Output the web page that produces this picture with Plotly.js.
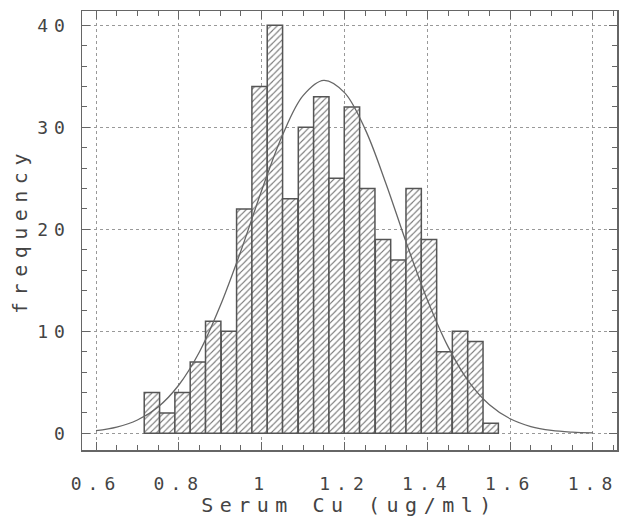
<!DOCTYPE html>
<html>
<head>
<meta charset="utf-8">
<script src="https://cdn.plot.ly/plotly-3.0.1.min.js"></script>
<style>
  html, body { margin: 0; padding: 0; background: #fff; }
  #chart { width: 621px; height: 517px; }
  .xtick text, .ytick text { letter-spacing: 6px; }
  .xtitle, .ytitle { letter-spacing: 6.5px; }
</style>
</head>
<body>
<div id="chart"></div>
<script>
// Histogram bins (centres, ug/ml) and counts
const binCenters = [0.735, 0.772, 0.809, 0.846, 0.883, 0.921, 0.958, 0.995, 1.032, 1.069, 1.107, 1.144,
                    1.181, 1.218, 1.255, 1.293, 1.330, 1.367, 1.404, 1.441, 1.479, 1.516, 1.553];
const counts = [4, 2, 4, 7, 11, 10, 22, 34, 40, 23, 30, 33, 25, 32, 24, 19, 17, 24, 19, 8, 10, 9, 1];
const binWidth = 0.0371;

// Fitted normal curve
const curveX = [0.60, 0.65, 0.70, 0.75, 0.80, 0.85, 0.90, 0.95, 1.00, 1.05, 1.10, 1.15, 1.20,
                1.25, 1.30, 1.35, 1.40, 1.45, 1.50, 1.55, 1.60, 1.65, 1.70, 1.75, 1.80];
const curveY = [0.26, 0.61, 1.31, 2.59, 4.74, 8.0, 12.5, 17.9, 23.8, 29.2, 33.1, 34.6, 33.4,
                29.8, 24.5, 18.6, 13.1, 8.5, 5.07, 2.80, 1.43, 0.67, 0.29, 0.12, 0.04];

const xTickVals = [0.6, 0.8, 1.0, 1.2, 1.4, 1.6, 1.8];
const yTickVals = [0, 10, 20, 30, 40];

const ink = '#444';
const font = 'DejaVu Sans Mono, Liberation Mono, monospace';

const traces = [
  {
    type: 'bar',
    x: binCenters,
    y: counts,
    width: binWidth,
    marker: {
      color: '#fff',
      line: { color: '#555', width: 1.5 },
      pattern: { shape: '/', fgcolor: '#777', bgcolor: '#fff', size: 4.5, solidity: 0.25 }
    },
    hoverinfo: 'x+y',
    showlegend: false
  },
  {
    type: 'scatter',
    mode: 'lines',
    x: curveX,
    y: curveY,
    line: { color: '#666', width: 1.3, shape: 'spline' },
    showlegend: false
  }
];

const layout = {
  width: 621,
  height: 517,
  margin: { l: 82, r: 4, t: 11, b: 67 },
  paper_bgcolor: '#fff',
  plot_bgcolor: '#fff',
  font: { family: font, color: ink, size: 18 },
  bargap: 0,
  xaxis: {
    range: [0.5662, 1.858],
    tickmode: 'array',
    tickvals: xTickVals,
    ticks: 'inside',
    ticklen: 8,
    tickcolor: '#666',
    showline: true,
    linecolor: '#666',
    linewidth: 1.5,
    mirror: 'ticks',
    showgrid: true,
    gridcolor: '#999',
    griddash: 'dot',
    gridwidth: 1,
    zeroline: false,
    ticklabelstandoff: 17,
    tickfont: { family: font, size: 18, color: ink },
    minor: { dtick: 0.05, tick0: 0.6, ticks: 'inside', ticklen: 5, tickcolor: '#666', showgrid: false },
    title: { text: 'Serum Cu (ug/ml)', font: { family: font, size: 20, color: ink }, standoff: 4 }
  },
  yaxis: {
    range: [-1.63, 41.4],
    tickmode: 'array',
    tickvals: yTickVals,
    ticks: 'inside',
    ticklen: 8,
    tickcolor: '#666',
    showline: true,
    linecolor: '#666',
    linewidth: 1.5,
    mirror: 'ticks',
    showgrid: true,
    gridcolor: '#999',
    griddash: 'dot',
    gridwidth: 1,
    zeroline: false,
    ticklabelstandoff: 6,
    tickfont: { family: font, size: 18, color: ink },
    minor: { dtick: 2, tick0: 0, ticks: 'inside', ticklen: 5, tickcolor: '#666', showgrid: false },
    title: { text: 'frequency', font: { family: font, size: 20, color: ink }, standoff: 4 }
  }
};

Plotly.newPlot('chart', traces, layout, { displayModeBar: false, staticPlot: true });
</script>
</body>
</html>
